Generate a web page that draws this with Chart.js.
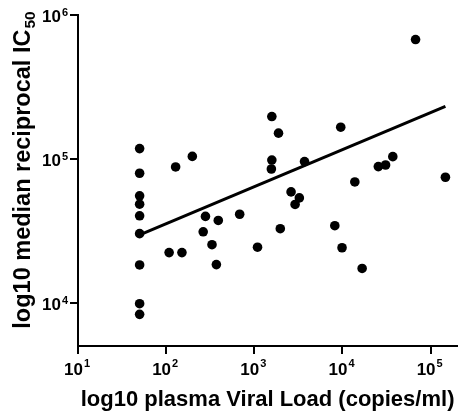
<!DOCTYPE html>
<html>
<head>
<meta charset="utf-8">
<script src="https://cdn.jsdelivr.net/npm/chart.js@4/dist/chart.umd.min.js"></script>
<style>
html,body{margin:0;padding:0;background:#fff;overflow:hidden;}
canvas{display:block;}
</style>
</head>
<body>
<canvas id="c" width="462" height="414"></canvas>
<script>
// Data
const viralLoad = [50,50,50,50,50,50,50,50,50,
  128,198,108,151,279,390,263,331,371,682,1087,
  67400,1580,1880,9550,1580,1560,3710,37200,30800,25500,147000,13800,2610,3240,2900,1970,8180,9880,16700];
const ic50 = [117800,79400,55300,48400,40200,30200,18300,9840,8300,
  87800,104000,22300,22300,39800,37300,31100,25300,18400,41200,24300,
  674800,196800,150900,166000,98100,85000,95700,103600,90600,88300,74500,69100,58900,53500,48200,32700,34300,24100,17300];
const fitX = [50, 147000];
const fitY = [29600, 232000];
const xTickValues = [10, 100, 1000, 10000, 100000];
const yTickValues = [10000, 100000, 1000000];
const xRange = [10, 200000];
const yRange = [5000, 1000000];
const xTitle = 'log10 plasma Viral Load (copies/ml)';
const yTitleMain = 'log10 median reciprocal IC';
const yTitleSub = '50';

const FONT = '"Liberation Sans", Arial, Helvetica, sans-serif';

const labelPlugin = {
  id: 'labels',
  afterDraw(chart) {
    const ctx = chart.ctx;
    const xs = chart.scales.x, ys = chart.scales.y;
    const left = xs.left, bottom = ys.bottom;
    ctx.save();
    ctx.setLineDash([]);
    ctx.globalAlpha = 1;
    ctx.fillStyle = '#000';
    // tick marks
    xs.ticks.forEach(t => {
      const px = Math.round(xs.getPixelForValue(t.value));
      ctx.fillRect(px - 1, bottom, 2, 8);
    });
    ys.ticks.forEach(t => {
      const py = Math.round(ys.getPixelForValue(t.value));
      ctx.fillRect(left - 8, py - 1, 8, 2);
    });

    ctx.textBaseline = 'alphabetic';
    // x tick labels
    xs.ticks.forEach(t => {
      const px = xs.getPixelForValue(t.value);
      const exp = String(Math.round(Math.log10(t.value)));
      ctx.font = 'bold 17px ' + FONT;
      const wb = ctx.measureText('10').width;
      ctx.font = 'bold 11px ' + FONT;
      const ws = ctx.measureText(exp).width;
      const start = px - (wb + ws + 1) / 2 - 1;
      ctx.textAlign = 'left';
      ctx.font = 'bold 17px ' + FONT;
      ctx.fillText('10', start, 375);
      ctx.font = 'bold 11px ' + FONT;
      ctx.fillText(exp, start + wb + 1, 367);
    });
    // y tick labels
    ys.ticks.forEach(t => {
      const py = ys.getPixelForValue(t.value);
      const exp = String(Math.round(Math.log10(t.value)));
      ctx.textAlign = 'right';
      ctx.font = 'bold 11px ' + FONT;
      const ws = ctx.measureText(exp).width;
      ctx.fillText(exp, 68, py + 1);
      ctx.font = 'bold 17px ' + FONT;
      ctx.fillText('10', 68 - ws - 1, py + 7);
    });
    // x title
    ctx.textAlign = 'center';
    ctx.font = 'bold 22px ' + FONT;
    ctx.fillText(xTitle, (xs.left + xs.right) / 2, 406);
    // y title (rotated)
    ctx.translate(30, 0);
    ctx.rotate(-Math.PI / 2);
    ctx.textAlign = 'left';
    ctx.font = 'bold 23.5px ' + FONT;
    const wm = ctx.measureText(yTitleMain).width;
    ctx.font = 'bold 15.5px ' + FONT;
    const wsub = ctx.measureText(yTitleSub).width;
    const total = wm + wsub + 1;
    const center = -170;
    const startY = center - total / 2;
    ctx.font = 'bold 23.5px ' + FONT;
    ctx.fillText(yTitleMain, startY, 0);
    ctx.font = 'bold 15.5px ' + FONT;
    ctx.fillText(yTitleSub, startY + wm + 1, 5);
    ctx.restore();
  }
};

const points = viralLoad.map((v, i) => ({x: v, y: ic50[i]}));
const fitLine = fitX.map((v, i) => ({x: v, y: fitY[i]}));

new Chart(document.getElementById('c'), {
  type: 'scatter',
  data: {
    datasets: [
      {
        data: points,
        backgroundColor: '#000',
        borderWidth: 0,
        pointRadius: 4.8,
        pointHoverRadius: 4.8
      },
      {
        type: 'line',
        data: fitLine,
        borderColor: '#000',
        borderWidth: 3,
        pointRadius: 0,
        fill: false,
        showLine: true
      }
    ]
  },
  options: {
    responsive: false,
    animation: false,
    devicePixelRatio: 1,
    plugins: { legend: { display: false }, tooltip: { enabled: false } },
    layout: { padding: { top: 15, left: 0, right: 0, bottom: 0 } },
    scales: {
      x: {
        type: 'logarithmic',
        min: xRange[0],
        max: xRange[1],
        afterBuildTicks: s => { s.ticks = xTickValues.map(v => ({value: v})); },
        afterFit: s => { s.height = 68; },
        ticks: { display: false },
        grid: { display: false },
        border: { display: true, color: '#000', width: 2 }
      },
      y: {
        type: 'logarithmic',
        min: yRange[0],
        max: yRange[1],
        afterBuildTicks: s => { s.ticks = yTickValues.map(v => ({value: v})); },
        afterFit: s => { s.width = 78; },
        ticks: { display: false },
        grid: { display: false },
        border: { display: true, color: '#000', width: 2 }
      }
    }
  },
  plugins: [labelPlugin]
});
</script>
</body>
</html>
